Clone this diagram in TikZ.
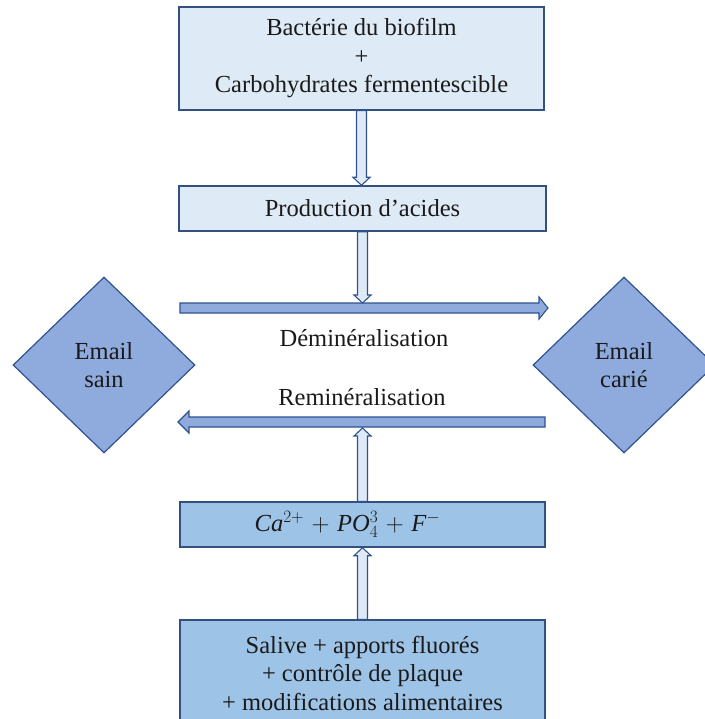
\documentclass[tikz,border=0pt]{standalone}
\usepackage{fontspec}
\setmainfont{LiberationSerif}[Extension=.ttf, UprightFont=*-Regular, BoldFont=*-Bold, ItalicFont=*-Italic, BoldItalicFont=*-BoldItalic]
\usetikzlibrary{shapes.geometric,calc}
\definecolor{lightfill}{HTML}{DEEAF6}
\definecolor{boxborder}{HTML}{34507E}
\definecolor{midfill}{HTML}{9DC3E6}
\definecolor{diafill}{HTML}{8FAADC}
\definecolor{diaborder}{HTML}{2F528F}
\definecolor{txt}{HTML}{1A1A1A}
\newcommand{\vdownarrow}[2]{\draw[varrow] let \p1=(#1), \p2=(#2) in
  (\x1-5pt,\y1) -- (\x1-5pt,\y2+8pt) -- (\x1-8.5pt,\y2+8pt) -- (\x1,\y2) --
  (\x1+8.5pt,\y2+8pt) -- (\x1+5pt,\y2+8pt) -- (\x1+5pt,\y1) -- cycle;}
\newcommand{\vuparrow}[2]{\draw[varrow] let \p1=(#1), \p2=(#2) in
  (\x1-5pt,\y1) -- (\x1-5pt,\y2-8pt) -- (\x1-8.5pt,\y2-8pt) -- (\x1,\y2) --
  (\x1+8.5pt,\y2-8pt) -- (\x1+5pt,\y2-8pt) -- (\x1+5pt,\y1) -- cycle;}
\begin{document}
\begin{tikzpicture}[x=1pt,y=-1pt,
  every node/.style={font=\fontsize{24.5}{28.5}\selectfont, text=txt, inner sep=0pt, align=center},
  lightbox/.style={rectangle, draw=boxborder, line width=1.4pt, fill=lightfill},
  midbox/.style={rectangle, draw=boxborder, line width=1.4pt, fill=midfill},
  dia/.style={diamond, draw=diaborder, line width=1.2pt, fill=diafill, minimum width=182pt, minimum height=176pt},
  varrow/.style={draw=diaborder, line width=1.1pt, fill=lightfill, line join=miter},
  harrow/.style={draw=diaborder, line width=1.1pt, fill=diafill, line join=miter}]
\useasboundingbox (0,0) rectangle (704,719);

% boxes
\node[lightbox, minimum width=365pt, minimum height=103pt] (top) at (361.5,58.5)
  {Bactérie du biofilm\\+\\Carbohydrates fermentescible};
\node[lightbox, minimum width=367pt, minimum height=45pt] (prod) at (362.5,208.5)
  {Production d’acides};
\node[midbox, minimum width=365pt, minimum height=45pt] (ca) at (362.5,524.5)
  {\medmuskip=5.5mu $\mathit{Ca}^{2+}+\mathit{PO}_4^3+\mathit{F}^{-}$\hspace*{30pt}};
\node[midbox, minimum width=365pt, minimum height=106pt] (bot) at (362.5,673)
  {Salive + apports fluorés\\+ contrôle de plaque\\+ modifications alimentaires};

% diamonds
\node[dia] (sain) at (104,365) {Email\\sain};
\node[dia] (carie) at (624,365) {Email\\carié};

% labels
\node (demin) at (364,338) {Déminéralisation};
\node (remin) at (362,397) {Reminéralisation};

% horizontal arrows
\coordinate (dA) at (180,308);
\coordinate (dB) at (548,308);
\coordinate (rA) at (545,422);
\coordinate (rB) at (178,422);
\draw[harrow] let \p1=(dA), \p2=(dB) in
  (\x1,\y1+5pt) -- (\x2-9pt,\y1+5pt) -- (\x2-9pt,\y1+11pt) -- (\x2,\y2) --
  (\x2-9pt,\y1-11pt) -- (\x2-9pt,\y1-5pt) -- (\x1,\y1-5pt) -- cycle;
\draw[harrow] let \p1=(rA), \p2=(rB) in
  (\x1,\y1+5pt) -- (\x2+11pt,\y1+5pt) -- (\x2+11pt,\y1+11pt) -- (\x2,\y2) --
  (\x2+11pt,\y1-11pt) -- (\x2+11pt,\y1-5pt) -- (\x1,\y1-5pt) -- cycle;

% vertical arrows
\coordinate (dIn) at (362.5,303);
\coordinate (rIn) at (362.5,428);
\vdownarrow{top.south}{prod.north}
\vdownarrow{prod.south}{dIn}
\vuparrow{ca.north}{rIn}
\vuparrow{bot.north}{ca.south}
\end{tikzpicture}
\end{document}
